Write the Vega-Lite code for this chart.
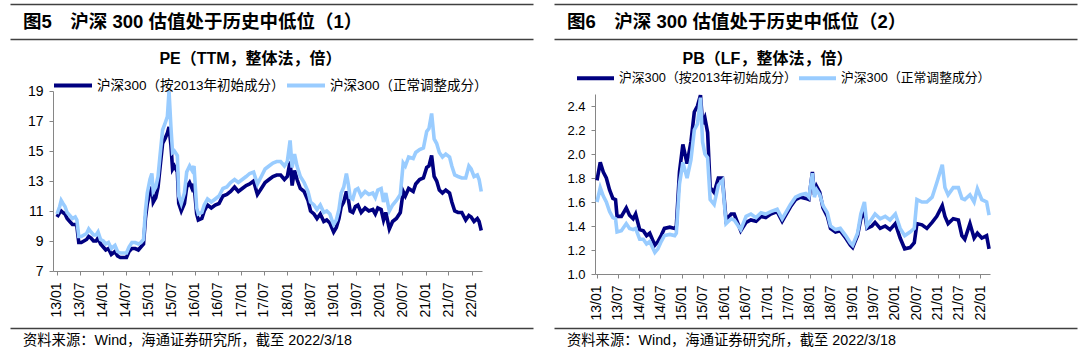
{
  "$schema": "https://vega.github.io/schema/vega-lite/v6.json",
  "padding": {"left": 10, "top": 4, "right": 0, "bottom": 0},
  "background": "white",
  "config": {"view": {"stroke": null}, "font": "Liberation Sans, Noto Sans CJK SC"},
  "datasets": {
    "pe": [
      {"d":"2013-01-04","a":10.6,"b":10.8},{"d":"2013-01-25","a":10.9,"b":11.3},{"d":"2013-02-06","a":11.0,"b":11.7},{"d":"2013-02-20","a":10.9,"b":11.5},
      {"d":"2013-03-08","a":10.8,"b":11.3},{"d":"2013-03-25","a":10.5,"b":10.9},{"d":"2013-04-15","a":10.3,"b":10.7},{"d":"2013-05-06","a":10.1,"b":10.5},
      {"d":"2013-05-28","a":10.1,"b":10.6},{"d":"2013-06-10","a":10.0,"b":10.4},{"d":"2013-06-25","a":8.9,"b":9.3},{"d":"2013-07-15","a":8.9,"b":9.3},
      {"d":"2013-08-05","a":9.0,"b":9.4},{"d":"2013-08-26","a":9.1,"b":9.5},{"d":"2013-09-12","a":9.3,"b":9.8},{"d":"2013-09-30","a":9.2,"b":9.6},
      {"d":"2013-10-20","a":9.0,"b":9.4},{"d":"2013-11-10","a":9.0,"b":9.4},{"d":"2013-11-25","a":9.2,"b":9.6},{"d":"2013-12-15","a":8.8,"b":9.1},
      {"d":"2014-01-05","a":8.6,"b":9.0},{"d":"2014-01-25","a":8.4,"b":8.8},{"d":"2014-02-15","a":8.5,"b":8.9},{"d":"2014-03-10","a":8.1,"b":8.5},
      {"d":"2014-04-08","a":8.3,"b":8.7},{"d":"2014-04-28","a":8.0,"b":8.3},{"d":"2014-05-20","a":7.9,"b":8.2},{"d":"2014-06-15","a":7.9,"b":8.2},
      {"d":"2014-07-08","a":7.9,"b":8.2},{"d":"2014-07-28","a":8.3,"b":8.6},{"d":"2014-08-20","a":8.5,"b":8.9},{"d":"2014-09-15","a":8.5,"b":8.9},
      {"d":"2014-10-10","a":8.4,"b":8.8},{"d":"2014-10-30","a":8.6,"b":8.9},{"d":"2014-11-20","a":8.8,"b":9.1},{"d":"2014-12-05","a":10.5,"b":11.0},
      {"d":"2014-12-20","a":11.5,"b":12.2},{"d":"2015-01-10","a":12.3,"b":13.1},{"d":"2015-01-25","a":12.6,"b":13.5},{"d":"2015-02-05","a":11.6,"b":12.3},
      {"d":"2015-02-25","a":11.9,"b":12.6},{"d":"2015-03-15","a":12.6,"b":13.3},{"d":"2015-04-01","a":14.0,"b":14.8},{"d":"2015-04-20","a":15.5,"b":16.4},
      {"d":"2015-05-08","a":15.8,"b":16.8},{"d":"2015-05-28","a":16.2,"b":17.3},{"d":"2015-06-10","a":16.6,"b":19.0},{"d":"2015-06-25","a":15.4,"b":16.6},
      {"d":"2015-07-08","a":13.8,"b":14.9},{"d":"2015-07-22","a":14.0,"b":15.0},{"d":"2015-08-15","a":13.6,"b":14.7},{"d":"2015-08-26","a":11.5,"b":12.0},
      {"d":"2015-09-15","a":11.0,"b":11.5},{"d":"2015-10-10","a":11.5,"b":12.2},{"d":"2015-10-28","a":12.6,"b":13.6},{"d":"2015-11-20","a":12.9,"b":14.0},
      {"d":"2015-12-10","a":12.5,"b":13.7},{"d":"2015-12-25","a":12.8,"b":14.0},{"d":"2016-01-15","a":10.8,"b":11.2},{"d":"2016-01-28","a":10.4,"b":10.8},
      {"d":"2016-02-25","a":10.5,"b":10.9},{"d":"2016-03-15","a":11.0,"b":11.4},{"d":"2016-04-10","a":11.4,"b":11.8},{"d":"2016-05-10","a":11.2,"b":11.6},
      {"d":"2016-06-10","a":11.4,"b":11.8},{"d":"2016-07-10","a":11.5,"b":12.0},{"d":"2016-08-10","a":12.0,"b":12.5},{"d":"2016-09-10","a":12.1,"b":12.6},
      {"d":"2016-10-10","a":12.3,"b":12.9},{"d":"2016-11-10","a":12.6,"b":13.1},{"d":"2016-12-10","a":12.3,"b":12.9},{"d":"2017-01-10","a":12.5,"b":13.1},
      {"d":"2017-02-10","a":12.7,"b":13.3},{"d":"2017-03-10","a":12.8,"b":13.5},{"d":"2017-04-10","a":13.0,"b":13.6},{"d":"2017-05-10","a":12.1,"b":12.8},
      {"d":"2017-06-10","a":12.5,"b":13.3},{"d":"2017-07-10","a":12.9,"b":13.8},{"d":"2017-08-10","a":13.1,"b":14.0},{"d":"2017-09-10","a":13.3,"b":14.2},
      {"d":"2017-10-10","a":13.4,"b":14.3},{"d":"2017-11-10","a":13.4,"b":14.3},{"d":"2017-12-10","a":13.1,"b":14.0},{"d":"2018-01-02","a":13.3,"b":14.3},
      {"d":"2018-01-24","a":14.3,"b":15.7},{"d":"2018-02-09","a":12.7,"b":13.9},{"d":"2018-02-28","a":13.7,"b":14.8},{"d":"2018-03-20","a":13.1,"b":14.0},
      {"d":"2018-04-15","a":12.5,"b":13.3},{"d":"2018-05-15","a":12.3,"b":12.9},{"d":"2018-06-15","a":11.7,"b":12.3},{"d":"2018-07-05","a":11.0,"b":11.6},
      {"d":"2018-08-01","a":10.8,"b":11.4},{"d":"2018-08-25","a":10.5,"b":11.1},{"d":"2018-09-20","a":10.8,"b":11.4},{"d":"2018-10-18","a":10.3,"b":10.9},
      {"d":"2018-11-10","a":10.4,"b":11.0},{"d":"2018-12-05","a":10.2,"b":10.8},{"d":"2018-12-25","a":9.8,"b":10.3},{"d":"2019-01-04","a":9.6,"b":10.1},
      {"d":"2019-01-25","a":9.9,"b":10.4},{"d":"2019-02-15","a":10.5,"b":11.1},{"d":"2019-03-05","a":11.3,"b":12.2},{"d":"2019-03-25","a":11.6,"b":12.6},
      {"d":"2019-04-15","a":12.3,"b":13.5},{"d":"2019-04-30","a":11.8,"b":12.8},{"d":"2019-05-15","a":11.0,"b":11.9},{"d":"2019-06-05","a":10.9,"b":11.8},
      {"d":"2019-06-25","a":11.3,"b":12.4},{"d":"2019-07-15","a":11.4,"b":12.5},{"d":"2019-08-10","a":10.9,"b":12.0},{"d":"2019-09-10","a":11.2,"b":12.3},
      {"d":"2019-10-10","a":11.0,"b":12.1},{"d":"2019-11-10","a":11.1,"b":12.2},{"d":"2019-11-30","a":10.8,"b":11.9},{"d":"2019-12-20","a":11.2,"b":12.4},
      {"d":"2020-01-15","a":11.1,"b":12.5},{"d":"2020-02-03","a":10.4,"b":11.6},{"d":"2020-02-21","a":10.9,"b":12.2},{"d":"2020-03-20","a":9.8,"b":11.0},
      {"d":"2020-04-15","a":10.3,"b":11.4},{"d":"2020-05-15","a":10.5,"b":11.7},{"d":"2020-06-15","a":10.9,"b":12.1},{"d":"2020-07-08","a":12.3,"b":14.2},
      {"d":"2020-07-25","a":12.0,"b":14.0},{"d":"2020-08-20","a":12.5,"b":14.6},{"d":"2020-09-25","a":12.3,"b":14.5},{"d":"2020-10-15","a":12.8,"b":14.9},
      {"d":"2020-11-15","a":13.1,"b":15.1},{"d":"2020-12-15","a":13.2,"b":15.2},{"d":"2021-01-10","a":13.9,"b":16.3},{"d":"2021-01-28","a":14.0,"b":16.5},
      {"d":"2021-02-18","a":14.7,"b":17.5},{"d":"2021-03-10","a":13.3,"b":15.8},{"d":"2021-03-30","a":13.0,"b":15.5},{"d":"2021-04-20","a":12.4,"b":14.9},
      {"d":"2021-05-15","a":12.2,"b":14.6},{"d":"2021-06-10","a":12.4,"b":14.8},{"d":"2021-07-10","a":12.2,"b":14.6},{"d":"2021-07-28","a":11.6,"b":14.0},
      {"d":"2021-08-20","a":11.0,"b":13.4},{"d":"2021-09-15","a":10.9,"b":13.3},{"d":"2021-10-15","a":10.9,"b":13.2},{"d":"2021-11-15","a":10.4,"b":13.2},
      {"d":"2021-12-10","a":10.7,"b":14.0},{"d":"2021-12-28","a":10.6,"b":13.8},{"d":"2022-01-20","a":10.3,"b":13.3},{"d":"2022-02-15","a":10.5,"b":13.4},
      {"d":"2022-03-01","a":10.3,"b":13.1},{"d":"2022-03-18","a":9.7,"b":12.3}
    ],
    "pb": [
      {"d":"2013-01-04","a":1.78,"b":1.60},{"d":"2013-02-01","a":1.93,"b":1.72},{"d":"2013-02-27","a":1.85,"b":1.65},{"d":"2013-03-25","a":1.80,"b":1.60},
      {"d":"2013-04-22","a":1.70,"b":1.52},{"d":"2013-05-20","a":1.63,"b":1.47},{"d":"2013-06-12","a":1.62,"b":1.46},{"d":"2013-06-25","a":1.48,"b":1.35},
      {"d":"2013-08-01","a":1.48,"b":1.36},{"d":"2013-09-12","a":1.55,"b":1.42},{"d":"2013-10-10","a":1.49,"b":1.38},{"d":"2013-11-10","a":1.46,"b":1.37},
      {"d":"2013-12-01","a":1.50,"b":1.38},{"d":"2014-01-05","a":1.37,"b":1.29},{"d":"2014-02-05","a":1.36,"b":1.29},{"d":"2014-03-05","a":1.32,"b":1.25},
      {"d":"2014-04-01","a":1.34,"b":1.27},{"d":"2014-05-15","a":1.24,"b":1.18},{"d":"2014-06-10","a":1.27,"b":1.21},{"d":"2014-07-08","a":1.32,"b":1.27},
      {"d":"2014-08-05","a":1.38,"b":1.32},{"d":"2014-09-20","a":1.39,"b":1.33},{"d":"2014-11-01","a":1.38,"b":1.32},{"d":"2014-11-15","a":1.40,"b":1.34},
      {"d":"2014-12-12","a":1.85,"b":1.75},{"d":"2015-01-10","a":2.08,"b":1.93},{"d":"2015-02-15","a":1.92,"b":1.80},{"d":"2015-03-20","a":2.10,"b":1.95},
      {"d":"2015-04-18","a":2.35,"b":2.20},{"d":"2015-05-15","a":2.40,"b":2.25},{"d":"2015-06-10","a":2.49,"b":2.47},{"d":"2015-06-28","a":2.25,"b":2.10},
      {"d":"2015-07-18","a":2.30,"b":2.00},{"d":"2015-08-10","a":2.18,"b":1.97},{"d":"2015-09-01","a":1.72,"b":1.62},{"d":"2015-10-05","a":1.68,"b":1.58},
      {"d":"2015-11-10","a":1.80,"b":1.74},{"d":"2015-12-15","a":1.80,"b":1.78},{"d":"2016-01-15","a":1.45,"b":1.42},{"d":"2016-02-28","a":1.50,"b":1.46},
      {"d":"2016-03-25","a":1.50,"b":1.45},{"d":"2016-05-20","a":1.36,"b":1.37},{"d":"2016-07-05","a":1.43,"b":1.48},{"d":"2016-08-15","a":1.45,"b":1.50},
      {"d":"2016-09-28","a":1.44,"b":1.47},{"d":"2016-11-10","a":1.48,"b":1.51},{"d":"2016-12-20","a":1.47,"b":1.50},{"d":"2017-02-01","a":1.50,"b":1.52},
      {"d":"2017-03-28","a":1.52,"b":1.54},{"d":"2017-05-10","a":1.44,"b":1.46},{"d":"2017-07-20","a":1.56,"b":1.58},{"d":"2017-09-01","a":1.62,"b":1.64},
      {"d":"2017-10-15","a":1.64,"b":1.66},{"d":"2017-11-28","a":1.63,"b":1.67},{"d":"2017-12-25","a":1.62,"b":1.64},{"d":"2018-01-24","a":1.85,"b":1.84},
      {"d":"2018-02-10","a":1.66,"b":1.64},{"d":"2018-03-01","a":1.73,"b":1.70},{"d":"2018-03-28","a":1.68,"b":1.66},{"d":"2018-04-25","a":1.55,"b":1.57},
      {"d":"2018-06-01","a":1.48,"b":1.51},{"d":"2018-06-28","a":1.38,"b":1.40},{"d":"2018-08-10","a":1.35,"b":1.37},{"d":"2018-09-20","a":1.36,"b":1.38},
      {"d":"2018-11-05","a":1.30,"b":1.32},{"d":"2018-12-15","a":1.24,"b":1.26},{"d":"2019-01-04","a":1.22,"b":1.24},{"d":"2019-02-15","a":1.32,"b":1.34},
      {"d":"2019-03-15","a":1.46,"b":1.50},{"d":"2019-04-15","a":1.52,"b":1.60},{"d":"2019-05-07","a":1.38,"b":1.40},{"d":"2019-06-18","a":1.40,"b":1.46},
      {"d":"2019-07-15","a":1.43,"b":1.50},{"d":"2019-08-28","a":1.38,"b":1.46},{"d":"2019-10-10","a":1.40,"b":1.48},{"d":"2019-11-20","a":1.37,"b":1.45},
      {"d":"2020-01-05","a":1.42,"b":1.50},{"d":"2020-02-15","a":1.30,"b":1.38},{"d":"2020-03-25","a":1.21,"b":1.32},{"d":"2020-05-10","a":1.22,"b":1.35},
      {"d":"2020-06-15","a":1.26,"b":1.38},{"d":"2020-07-08","a":1.42,"b":1.62},{"d":"2020-08-20","a":1.41,"b":1.60},{"d":"2020-10-01","a":1.38,"b":1.60},
      {"d":"2020-11-15","a":1.43,"b":1.64},{"d":"2020-12-25","a":1.48,"b":1.76},{"d":"2021-02-10","a":1.57,"b":1.91},{"d":"2021-03-05","a":1.48,"b":1.72},
      {"d":"2021-04-01","a":1.42,"b":1.66},{"d":"2021-05-15","a":1.46,"b":1.72},{"d":"2021-06-28","a":1.45,"b":1.72},{"d":"2021-07-28","a":1.32,"b":1.63},
      {"d":"2021-08-22","a":1.29,"b":1.62},{"d":"2021-10-05","a":1.42,"b":1.66},{"d":"2021-11-10","a":1.30,"b":1.60},{"d":"2021-12-08","a":1.34,"b":1.71},
      {"d":"2022-01-15","a":1.30,"b":1.62},{"d":"2022-02-25","a":1.32,"b":1.60},{"d":"2022-03-18","a":1.21,"b":1.49}
    ]
  },
  "spacing": -22,
  "resolve": {"scale": {"color": "independent"}, "legend": {"color": "independent"}},
  "hconcat": [
    {
      "spacing": 57,
      "bounds": "flush",
      "resolve": {"scale": {"color": "independent"}, "legend": {"color": "independent"}},
      "vconcat": [
        {
          "width": 480, "height": 30,
          "data": {"values": [{"p": 0, "q": 0.5, "t": "图5　沪深 300 估值处于历史中低位（1）"}]},
          "encoding": {"y": {"field": "q", "type": "quantitative", "scale": {"domain": [0, 1.0], "range": [35, 0]}, "axis": null}},
          "layer": [
            {"mark": {"type": "text", "align": "left", "baseline": "middle", "dx": 13, "fontSize": 18.5, "fontWeight": "bold", "color": "#000000"},
             "encoding": {"x": {"field": "p", "type": "quantitative", "scale": {"domain": [0, 1], "range": [-43, 480]},
               "axis": {"orient": "top", "domain": true, "domainColor": "#404040", "domainWidth": 1.5, "ticks": false, "labels": false, "grid": false, "title": null}},
               "text": {"field": "t"}}},
            {"mark": {"type": "text", "align": "left", "baseline": "middle", "dx": 13, "fontSize": 18.5, "fontWeight": "bold", "opacity": 0},
             "encoding": {"x": {"field": "p", "type": "quantitative",
               "axis": {"orient": "bottom", "offset": 5, "domain": true, "domainColor": "#404040", "domainWidth": 1.5, "ticks": false, "labels": false, "grid": false, "title": null}},
               "text": {"field": "t"}}}
          ],
          "resolve": {"axis": {"x": "independent"}}
        },
        {
          "width": 429, "height": 180,
          "data": {"name": "pe"},
          "title": {"text": "PE（TTM，整体法，倍）", "fontSize": 16, "fontWeight": "bold", "color": "#000000", "frame": "group", "offset": -2.5, "dx": -17},
          "encoding": {
            "x": {"field": "d", "type": "temporal", "title": null,
              "scale": {"type": "utc", "domain": [{"year": 2012, "month": 12, "date": 3, "utc": true}, {"year": 2022, "month": 3, "date": 24, "utc": true}]},
              "axis": {"format": "%y/%m", "labelAngle": 270, "labelFontSize": 14, "labelColor": "#000000", "labelPadding": 7, "labelOverlap": false, "labelFlush": false,
                "tickSize": 4, "tickColor": "#868686", "domainColor": "#868686", "grid": false,
                "values": [
                  {"year":2013,"month":1,"date":1,"utc":true},{"year":2013,"month":7,"date":1,"utc":true},
                  {"year":2014,"month":1,"date":1,"utc":true},{"year":2014,"month":7,"date":1,"utc":true},
                  {"year":2015,"month":1,"date":1,"utc":true},{"year":2015,"month":7,"date":1,"utc":true},
                  {"year":2016,"month":1,"date":1,"utc":true},{"year":2016,"month":7,"date":1,"utc":true},
                  {"year":2017,"month":1,"date":1,"utc":true},{"year":2017,"month":7,"date":1,"utc":true},
                  {"year":2018,"month":1,"date":1,"utc":true},{"year":2018,"month":7,"date":1,"utc":true},
                  {"year":2019,"month":1,"date":1,"utc":true},{"year":2019,"month":7,"date":1,"utc":true},
                  {"year":2020,"month":1,"date":1,"utc":true},{"year":2020,"month":7,"date":1,"utc":true},
                  {"year":2021,"month":1,"date":1,"utc":true},{"year":2021,"month":7,"date":1,"utc":true},
                  {"year":2022,"month":1,"date":1,"utc":true}
                ]}}
          },
          "layer": [
            {"mark": {"type": "line", "strokeWidth": 3.6},
             "encoding": {
               "y": {"field": "a", "type": "quantitative", "title": null, "scale": {"domain": [7, 19], "nice": false, "zero": false},
                 "axis": {"values": [7, 9, 11, 13, 15, 17, 19], "labelFontSize": 14, "labelColor": "#000000", "labelPadding": 6, "tickSize": 4, "labelOverlap": false, "tickCount": 7,
                   "tickColor": "#868686", "domainColor": "#868686", "grid": false, "minExtent": 43, "maxExtent": 43}},
               "color": {"datum": "沪深300（按2013年初始成分）", "type": "nominal",
                 "scale": {"domain": ["沪深300（按2013年初始成分）", "沪深300（正常调整成分）"], "range": ["#000080", "#99CCFF"]},
                 "legend": {"title": null, "orient": "none", "direction": "horizontal", "legendX": -1, "legendY": -26.5, "padding": 0,
                   "symbolType": "stroke", "symbolSize": 1444, "symbolStrokeWidth": 4, "labelFontSize": 13.5, "labelColor": "#000000",
                   "labelOffset": 3, "columnPadding": -10, "labelLimit": 400}}}},
            {"mark": {"type": "line", "strokeWidth": 3.6},
             "encoding": {
               "y": {"field": "b", "type": "quantitative", "title": null,
                 "axis": {"values": [7, 9, 11, 13, 15, 17, 19], "labelFontSize": 14, "labelColor": "#000000", "labelPadding": 6, "tickSize": 4, "labelOverlap": false, "tickCount": 7,
                   "tickColor": "#868686", "domainColor": "#868686", "grid": false, "minExtent": 43, "maxExtent": 43}},
               "color": {"datum": "沪深300（正常调整成分）", "type": "nominal"}}}
          ]
        },
        {
          "width": 480, "height": 26,
          "data": {"values": [{"p": 0, "q": 0.5, "t": "资料来源：Wind，海通证券研究所，截至 2022/3/18"}]},
          "mark": {"type": "text", "align": "left", "baseline": "middle", "dx": 13, "fontSize": 14.3, "color": "#000000"},
          "encoding": {
            "x": {"field": "p", "type": "quantitative", "scale": {"domain": [0, 1], "range": [-43, 480]},
              "axis": {"orient": "top", "domain": true, "domainColor": "#404040", "domainWidth": 1.5, "ticks": false, "labels": false, "grid": false, "title": null}},
            "y": {"field": "q", "type": "quantitative", "scale": {"domain": [0, 1]}, "axis": null},
            "text": {"field": "t"}}
        }
      ]
    },
    {
      "spacing": 54,
      "bounds": "flush",
      "resolve": {"scale": {"color": "independent"}, "legend": {"color": "independent"}},
      "vconcat": [
        {
          "width": 482, "height": 36,
          "data": {"values": [{"p": 0, "q": 0.5, "t": "图6　沪深 300 估值处于历史中低位（2）"}]},
          "encoding": {"y": {"field": "q", "type": "quantitative", "scale": {"domain": [0, 1.0], "range": [35, 0]}, "axis": null}},
          "layer": [
            {"mark": {"type": "text", "align": "left", "baseline": "middle", "dx": 13, "fontSize": 18.5, "fontWeight": "bold", "color": "#000000"},
             "encoding": {"x": {"field": "p", "type": "quantitative", "scale": {"domain": [0, 1], "range": [-41, 482]},
               "axis": {"orient": "top", "domain": true, "domainColor": "#404040", "domainWidth": 1.5, "ticks": false, "labels": false, "grid": false, "title": null}},
               "text": {"field": "t"}}},
            {"mark": {"type": "text", "align": "left", "baseline": "middle", "dx": 13, "fontSize": 18.5, "fontWeight": "bold", "opacity": 0},
             "encoding": {"x": {"field": "p", "type": "quantitative",
               "axis": {"orient": "bottom", "offset": -1, "domain": true, "domainColor": "#404040", "domainWidth": 1.5, "ticks": false, "labels": false, "grid": false, "title": null}},
               "text": {"field": "t"}}}
          ],
          "resolve": {"axis": {"x": "independent"}}
        },
        {
          "width": 395, "height": 180,
          "data": {"name": "pb"},
          "title": {"text": "PB（LF，整体法，倍）", "fontSize": 16, "fontWeight": "bold", "color": "#000000", "frame": "group", "offset": -9.5, "dx": -25},
          "encoding": {
            "x": {"field": "d", "type": "temporal", "title": null,
              "scale": {"type": "utc", "domain": [{"year": 2012, "month": 12, "date": 18, "utc": true}, {"year": 2022, "month": 3, "date": 26, "utc": true}]},
              "axis": {"format": "%y/%m", "labelAngle": 270, "labelFontSize": 14, "labelColor": "#000000", "labelPadding": 7, "labelOverlap": false, "labelFlush": false,
                "tickSize": 4, "tickColor": "#868686", "domainColor": "#868686", "grid": false,
                "values": [
                  {"year":2013,"month":1,"date":1,"utc":true},{"year":2013,"month":7,"date":1,"utc":true},
                  {"year":2014,"month":1,"date":1,"utc":true},{"year":2014,"month":7,"date":1,"utc":true},
                  {"year":2015,"month":1,"date":1,"utc":true},{"year":2015,"month":7,"date":1,"utc":true},
                  {"year":2016,"month":1,"date":1,"utc":true},{"year":2016,"month":7,"date":1,"utc":true},
                  {"year":2017,"month":1,"date":1,"utc":true},{"year":2017,"month":7,"date":1,"utc":true},
                  {"year":2018,"month":1,"date":1,"utc":true},{"year":2018,"month":7,"date":1,"utc":true},
                  {"year":2019,"month":1,"date":1,"utc":true},{"year":2019,"month":7,"date":1,"utc":true},
                  {"year":2020,"month":1,"date":1,"utc":true},{"year":2020,"month":7,"date":1,"utc":true},
                  {"year":2021,"month":1,"date":1,"utc":true},{"year":2021,"month":7,"date":1,"utc":true},
                  {"year":2022,"month":1,"date":1,"utc":true}
                ]}}
          },
          "layer": [
            {"mark": {"type": "line", "strokeWidth": 3.6},
             "encoding": {
               "y": {"field": "a", "type": "quantitative", "title": null, "scale": {"domain": [1.0, 2.5], "nice": false, "zero": false},
                 "axis": {"values": [1.0, 1.2, 1.4, 1.6, 1.8, 2.0, 2.2, 2.4], "format": ".1f", "labelFontSize": 13, "labelColor": "#000000", "labelPadding": 6, "tickSize": 4, "labelOverlap": false, "tickCount": 8,
                   "tickColor": "#868686", "domainColor": "#868686", "grid": false, "minExtent": 41, "maxExtent": 41}},
               "color": {"datum": "沪深300（按2013年初始成分）", "type": "nominal",
                 "scale": {"domain": ["沪深300（按2013年初始成分）", "沪深300（正常调整成分）"], "range": ["#000080", "#99CCFF"]},
                 "legend": {"title": null, "orient": "none", "direction": "horizontal", "legendX": -20, "legendY": -36.5, "padding": 0,
                   "symbolType": "stroke", "symbolSize": 1369, "symbolStrokeWidth": 4, "labelFontSize": 12.8, "labelColor": "#000000",
                   "labelOffset": 3, "columnPadding": -6, "labelLimit": 400}}}},
            {"mark": {"type": "line", "strokeWidth": 3.6},
             "encoding": {
               "y": {"field": "b", "type": "quantitative", "title": null,
                 "axis": {"values": [1.0, 1.2, 1.4, 1.6, 1.8, 2.0, 2.2, 2.4], "format": ".1f", "labelFontSize": 13, "labelColor": "#000000", "labelPadding": 6, "tickSize": 4, "labelOverlap": false, "tickCount": 8,
                   "tickColor": "#868686", "domainColor": "#868686", "grid": false, "minExtent": 41, "maxExtent": 41}},
               "color": {"datum": "沪深300（正常调整成分）", "type": "nominal"}}}
          ]
        },
        {
          "width": 482, "height": 26,
          "data": {"values": [{"p": 0, "q": 0.5, "t": "资料来源：Wind，海通证券研究所，截至 2022/3/18"}]},
          "mark": {"type": "text", "align": "left", "baseline": "middle", "dx": 13, "fontSize": 14.3, "color": "#000000"},
          "encoding": {
            "x": {"field": "p", "type": "quantitative", "scale": {"domain": [0, 1], "range": [-41, 482]},
              "axis": {"orient": "top", "domain": true, "domainColor": "#404040", "domainWidth": 1.5, "ticks": false, "labels": false, "grid": false, "title": null}},
            "y": {"field": "q", "type": "quantitative", "scale": {"domain": [0, 1]}, "axis": null},
            "text": {"field": "t"}}
        }
      ]
    }
  ]
}
